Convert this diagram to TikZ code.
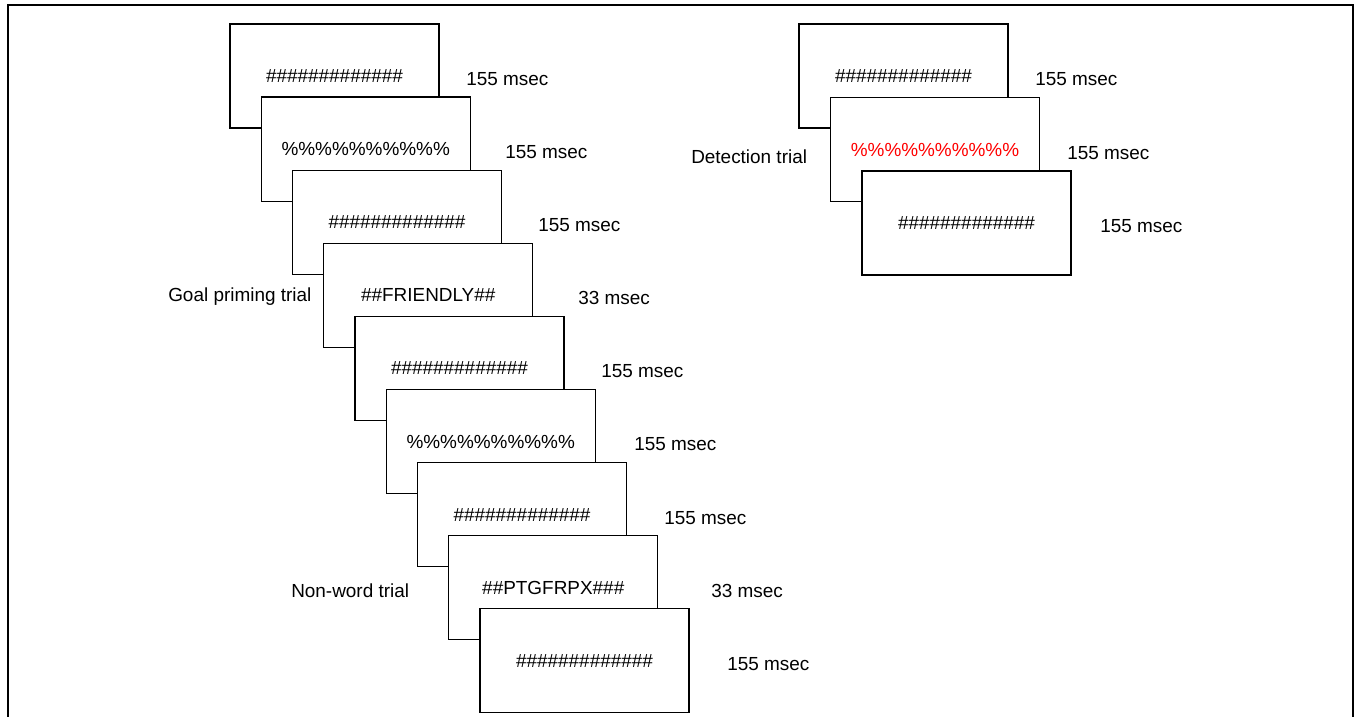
\documentclass[tikz,border=0pt]{standalone}
\usepackage{fontspec}
\setmainfont{Liberation Sans}
\usetikzlibrary{calc}

\newcommand{\hashrow}{\#\#\#\#\#\#\#\#\#\#\#\#\#}
\newcommand{\pctrow}{\%\%\%\%\%\%\%\%\%\%}

\tikzset{
  screen/.style={draw, fill=white, line width=0.9pt, minimum width=156.75pt, minimum height=78pt, inner sep=0pt},
  timing/.style={anchor=west, inner sep=0pt},
}

\begin{document}
\begin{tikzpicture}[x=0.75pt, y=-0.75pt, font=\fontsize{14.2}{17}\selectfont]
  \useasboundingbox (0,0) rectangle (1356,717);
  \draw[line width=1.6pt] (8,717) -- (8,5) -- (1353,5) -- (1353,717);
  % goal priming / non-word sequence
  \foreach \i/\txt in {1/\hashrow, 2/\pctrow, 3/\hashrow, 4/{\#\#FRIENDLY\#\#}, 5/\hashrow,
                       6/\pctrow, 7/\hashrow, 8/{\#\#PTGFRPX\#\#\#}, 9/\hashrow}
    \node[screen] (scr\i) at ({303.25+31.25*\i}, {2.9+73.1*\i}) {\txt};
  \foreach \i/\x/\t in {1/466/155, 2/505/155, 3/538/155, 4/578/33, 5/601/155,
                        6/634/155, 7/664/155, 8/711/33, 9/727/155}
    \node[timing] (t\i) at (\x, {5.9+73.1*\i}) {\t\ msec};
  \node[timing] (goal) at (168,297) {Goal priming trial};
  \node[timing] (nonword) at (291,591) {Non-word trial};
  % detection sequence
  \node[screen] (det1) at (903.5,76) {\hashrow};
  \node[screen] (det2) at (935,149.5) {\textcolor{red}{\pctrow}};
  \node[screen] (det3) at (966.5,223) {\hashrow};
  \node[timing] (dt1) at (1035,79) {155 msec};
  \node[timing] (dt2) at (1067,153) {155 msec};
  \node[timing] (dt3) at (1100,226) {155 msec};
  \node[timing] (detect) at (691,157) {Detection trial};
\end{tikzpicture}
\end{document}
